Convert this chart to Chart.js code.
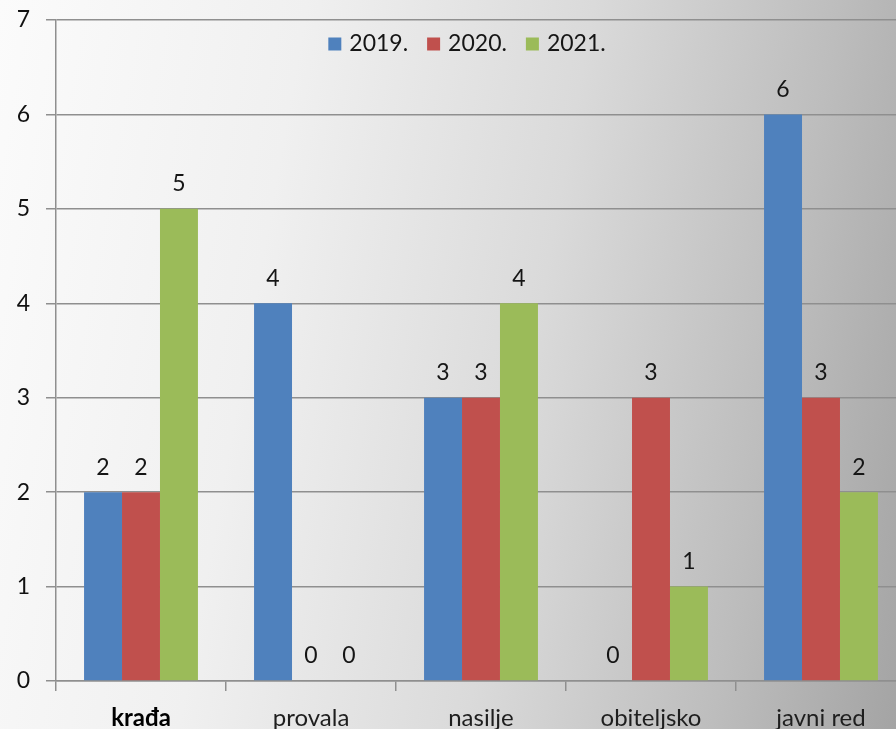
<!DOCTYPE html>
<html>
<head>
<meta charset="utf-8">
<script src="https://cdn.jsdelivr.net/npm/chart.js@4"></script>
<style>
  html, body { margin: 0; padding: 0; overflow: hidden; }
  body {
    width: 896px; height: 729px;
    background: linear-gradient(100deg, #fbfbfb 0%, #f0f0f0 30%, #dadada 58%, #bdbdbd 82%, #a4a4a4 100%);
  }
  #wrap { width: 910px; height: 729px; }
</style>
</head>
<body>
<div id="wrap"><canvas id="chart" width="910" height="729"></canvas></div>
<script>
// data
const categories = ['krađa', 'provala', 'nasilje', 'obiteljsko', 'javni red'];
const years = ['2019.', '2020.', '2021.'];
const values2019 = [2, 4, 3, 0, 6];
const values2020 = [2, 0, 3, 3, 3];
const values2021 = [5, 0, 4, 1, 2];
const yTicks = [0, 1, 2, 3, 4, 5, 6, 7];
const colors = ['#4F81BD', '#C0504D', '#9BBB59'];

const FONT = 'Lato, "Open Sans", sans-serif';
const gridColor = '#8f8f8f';

// numbers above the bars
const valueLabels = {
  id: 'valueLabels',
  afterDatasetsDraw(chart) {
    const ctx = chart.ctx;
    ctx.save();
    ctx.font = '23px ' + FONT;
    ctx.fillStyle = '#151515';
    ctx.textAlign = 'center';
    ctx.textBaseline = 'middle';
    chart.data.datasets.forEach((ds, i) => {
      chart.getDatasetMeta(i).data.forEach((bar, j) => {
        ctx.fillText(String(ds.data[j]), bar.x, bar.y - 25);
      });
    });
    ctx.restore();
  }
};

// legend drawn inside the plot, near the top
const innerLegend = {
  id: 'innerLegend',
  afterDraw(chart) {
    const ctx = chart.ctx;
    const area = chart.chartArea;
    ctx.save();
    ctx.font = '23px ' + FONT;
    ctx.textBaseline = 'middle';
    const box = 13, gap = 8, between = 19;
    const widths = chart.data.datasets.map(ds => ctx.measureText(ds.label).width);
    let total = 0;
    widths.forEach((w, i) => { total += box + gap + w + (i < widths.length - 1 ? between : 0); });
    let x = area.left + 411 - total / 2;
    const y = area.top + 24;
    chart.data.datasets.forEach((ds, i) => {
      ctx.fillStyle = ds.backgroundColor;
      ctx.fillRect(x, y - box / 2, box, box);
      x += box + gap;
      ctx.fillStyle = '#151515';
      ctx.fillText(ds.label, x, y);
      x += widths[i] + between;
    });
    ctx.restore();
  }
};

const ctx = document.getElementById('chart').getContext('2d');
new Chart(ctx, {
  type: 'bar',
  data: {
    labels: categories,
    datasets: [
      { label: years[0], data: values2019, backgroundColor: colors[0] },
      { label: years[1], data: values2020, backgroundColor: colors[1] },
      { label: years[2], data: values2021, backgroundColor: colors[2] }
    ]
  },
  options: {
    responsive: false,
    animation: false,
    layout: { padding: { top: 20, right: 4, left: 0, bottom: 0 } },
    datasets: {
      bar: { categoryPercentage: 0.67, barPercentage: 1.0, borderWidth: 0 }
    },
    plugins: {
      legend: { display: false },
      tooltip: { enabled: false }
    },
    scales: {
      x: {
        grid: {
          offset: true,
          drawOnChartArea: false,
          drawTicks: true,
          tickLength: 10,
          color: gridColor,
          lineWidth: 1.5
        },
        border: { display: true, color: gridColor, width: 1.5 },
        ticks: {
          padding: 13,
          color: ctx => ctx.index === 0 ? '#000' : '#1e1e1e',
          font: ctx => ctx.index === 0
            ? { family: FONT, size: 24, weight: 'bold' }
            : { family: FONT, size: 24 }
        },
        afterFit(scale) { scale.height = 48; }
      },
      y: {
        min: 0,
        max: 7,
        afterBuildTicks(scale) { scale.ticks = yTicks.map(v => ({ value: v })); },
        grid: {
          color: gridColor,
          lineWidth: 1.5,
          tickLength: 10
        },
        border: { display: true, color: gridColor, width: 1.5 },
        ticks: {
          padding: 16,
          color: '#111',
          font: { family: FONT, size: 23 }
        },
        afterFit(scale) {
          scale.width = 56;
          scale.paddingTop = 0;
          scale.paddingBottom = 0;
        }
      }
    }
  },
  plugins: [valueLabels, innerLegend]
});
</script>
</body>
</html>
